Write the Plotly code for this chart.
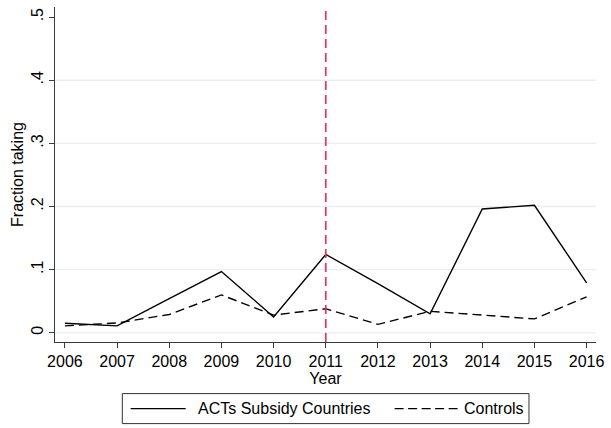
import plotly.graph_objects as go

# Yearly share taking ACTs, treated vs control countries
years = [2006, 2007, 2008, 2009, 2010, 2011, 2012, 2013, 2014, 2015, 2016]
subsidy = [0.015, 0.011, 0.054, 0.097, 0.025, 0.124, 0.078, 0.030, 0.196, 0.202, 0.079]
controls = [0.011, 0.0155, 0.029, 0.060, 0.028, 0.038, 0.0134, 0.034, 0.028, 0.022, 0.057]
series_names = ["ACTs Subsidy Countries", "Controls"]

y_ticks = [0, 0.1, 0.2, 0.3, 0.4, 0.5]
y_tick_text = ["0", ".1", ".2", ".3", ".4", ".5"]
grid_levels = [0, 0.1, 0.2, 0.3, 0.4]
policy_year = 2011

W, H = 611, 428
L, R, T, B = 55.3, 601.7, 6.7, 341.7
FONT = "Liberation Sans, Arial, sans-serif"
FS = 16
AXIS_COLOR = "#3a3a3a"


def px(x):
    return (x - L) / (R - L)


def py(y):
    return (B - y) / (B - T)


fig = go.Figure()
fig.add_trace(go.Scatter(x=years, y=subsidy, mode="lines", name=series_names[0],
                         line=dict(color="black", width=1.4), showlegend=False))
fig.add_trace(go.Scatter(x=years, y=controls, mode="lines", name=series_names[1],
                         line=dict(color="black", width=1.4, dash="9px,5px"), showlegend=False))

shapes = []
for g in grid_levels:
    shapes.append(dict(type="line", xref="paper", yref="y", x0=0, x1=1, y0=g, y1=g,
                       line=dict(color="#e6eff1", width=1.3), layer="below"))
shapes.append(dict(type="line", xref="x", yref="paper", x0=policy_year, x1=policy_year,
                   y0=0, y1=1, line=dict(color="#dc3566", width=1.7, dash="9px,5px")))

# Legend box below the plot
shapes.append(dict(type="rect", xref="paper", yref="paper",
                   x0=px(123.3), x1=px(534), y0=py(393.3), y1=py(423.3),
                   line=dict(color="#333333", width=1), fillcolor="white"))
shapes.append(dict(type="line", xref="paper", yref="paper",
                   x0=px(131.7), x1=px(187.3), y0=py(408.3), y1=py(408.3),
                   line=dict(color="black", width=1.4)))
shapes.append(dict(type="line", xref="paper", yref="paper",
                   x0=px(398.3), x1=px(462), y0=py(408.3), y1=py(408.3),
                   line=dict(color="black", width=1.4, dash="9px,4.5px")))

annotations = [
    dict(text=series_names[0], xref="paper", yref="paper", x=px(198), y=py(408.3),
         xanchor="left", yanchor="middle", showarrow=False,
         font=dict(family=FONT, size=FS, color="black")),
    dict(text=series_names[1], xref="paper", yref="paper", x=px(466), y=py(408.3),
         xanchor="left", yanchor="middle", showarrow=False,
         font=dict(family=FONT, size=FS, color="black")),
]

fig.update_layout(
    width=W, height=H,
    margin=dict(l=L, r=W - R, t=T, b=H - B, pad=0),
    paper_bgcolor="white", plot_bgcolor="white",
    font=dict(family=FONT, size=FS, color="black"),
    shapes=shapes, annotations=annotations,
    showlegend=False,
    xaxis=dict(range=[2005.81, 2016.18], tickvals=years, ticktext=[str(y) for y in years],
               showgrid=False, zeroline=False, showline=True, linecolor=AXIS_COLOR,
               linewidth=1.2, ticks="outside", ticklen=5, tickcolor=AXIS_COLOR,
               tickfont=dict(size=FS), title=dict(text="Year", font=dict(size=FS), standoff=0)),
    yaxis=dict(range=[-0.0146, 0.516], tickvals=y_ticks, ticktext=y_tick_text,
               tickangle=-90, showgrid=False, zeroline=False, showline=True,
               linecolor=AXIS_COLOR, linewidth=1.2, ticks="outside", ticklen=5,
               tickcolor=AXIS_COLOR, tickfont=dict(size=FS),
               title=dict(text="Fraction taking", font=dict(size=FS), standoff=0)),
)

fig.write_html("out.html")
